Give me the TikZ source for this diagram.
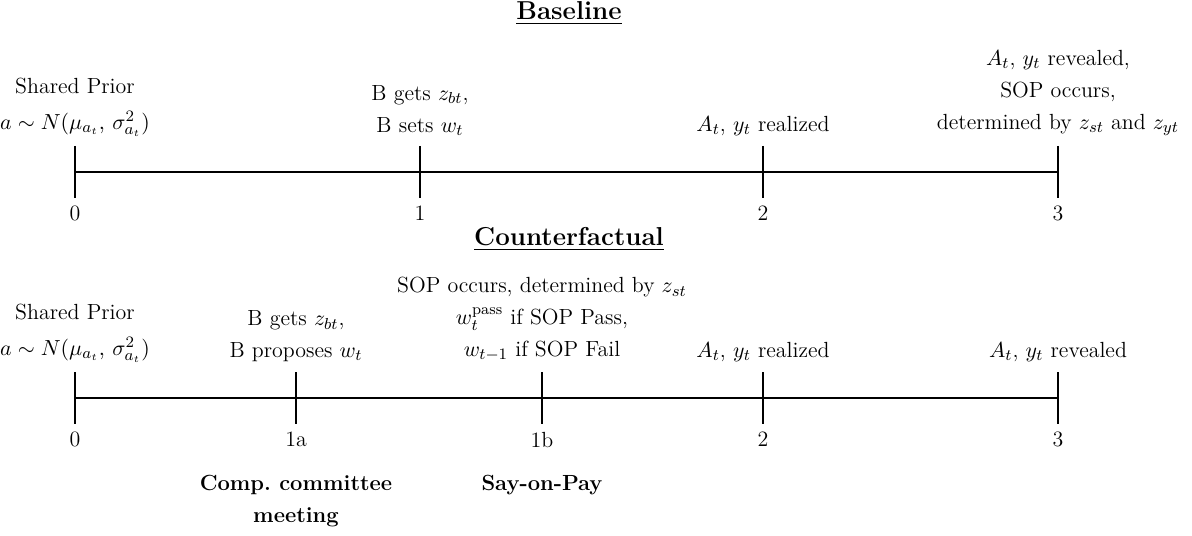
\documentclass[tikz,border=0pt]{standalone}
\usepackage{amsmath,amssymb}
\usetikzlibrary{positioning}

\begin{document}
\begin{tikzpicture}[x=0.5bp,y=-0.5bp,
  axis/.style={line width=1.3bp},
  tickmark/.style={line width=1.3bp},
  evtext/.style={align=center,inner sep=1.5bp,font=\fontsize{11}{16}\selectfont},
  numtext/.style={inner sep=2bp,font=\fontsize{11}{13}\selectfont},
  headtext/.style={inner sep=1bp,font=\fontsize{13}{16}\selectfont\bfseries},
  boldtext/.style={align=center,inner sep=2bp,font=\fontsize{11}{16}\selectfont\bfseries}]
\useasboundingbox (0,0) rectangle (1192,536);
% baseline timeline
\node[headtext] (basehead) at (569,13) {\underline{Baseline}};
\coordinate (b0) at (75,172); \coordinate (b1) at (420,172);
\coordinate (b2) at (763,172); \coordinate (b3) at (1058,172);
\draw[axis] (b0) -- (b3);
\foreach \p in {b0,b1,b2,b3}
  \draw[tickmark] (\p) ++(0,-26) -- ++(0,52);
\node[numtext,below=15bp of b0] (b0num) {0};
\node[numtext,below=15bp of b1] (b1num) {1};
\node[numtext,below=15bp of b2] (b2num) {2};
\node[numtext,below=15bp of b3] (b3num) {3};
\node[evtext,above=16bp of b0] (b0lab) {Shared Prior\\[2bp]$a\;{\sim}\;N(\mu_{a_t},\,\sigma^2_{a_t})$};
\node[evtext,above=16.5bp of b1] (b1lab) {B gets $z_{bt}$,\\B sets $w_t$};
\node[evtext,above=16.5bp of b2] (b2lab) {$A_t$, $y_t$ realized};
\node[evtext,above=16.5bp of b3] (b3lab) {$A_t$, $y_t$ revealed,\\SOP occurs,\\determined by $z_{st}$ and $z_{yt}$};
% counterfactual timeline
\node[headtext] (cfhead) at (569,239) {\underline{Counterfactual}};
\coordinate (c0) at (75,398); \coordinate (c1a) at (296,398); \coordinate (c1b) at (542,398);
\coordinate (c2) at (763,398); \coordinate (c3) at (1058,398);
\draw[axis] (c0) -- (c3);
\foreach \p in {c0,c1a,c1b,c2,c3}
  \draw[tickmark] (\p) ++(0,-26) -- ++(0,52);
\node[numtext,below=15bp of c0] (c0num) {0};
\node[numtext,below=15bp of c1a] (c1anum) {1a};
\node[numtext,below=15bp of c1b] (c1bnum) {1b};
\node[numtext,below=15bp of c2] (c2num) {2};
\node[numtext,below=15bp of c3] (c3num) {3};
\node[evtext,above=16bp of c0] (c0lab) {Shared Prior\\[2bp]$a\;{\sim}\;N(\mu_{a_t},\,\sigma^2_{a_t})$};
\node[evtext,above=16.5bp of c1a] (c1alab) {B gets $z_{bt}$,\\B proposes $w_t$};
\node[evtext,above=16.5bp of c1b] (c1blab) {SOP occurs, determined by $z_{st}$\\$w_t^{\text{pass}}$ if SOP Pass,\\$w_{t-1}$ if SOP Fail};
\node[evtext,above=16.5bp of c2] (c2lab) {$A_t$, $y_t$ realized};
\node[evtext,above=16.5bp of c3] (c3lab) {$A_t$, $y_t$ revealed};
\node[boldtext,below=9.5bp of c1anum] (compmeet) {Comp.\ committee\\meeting};
\node[boldtext,below=9.5bp of c1bnum] (saypay) {Say-on-Pay};
\end{tikzpicture}
\end{document}
